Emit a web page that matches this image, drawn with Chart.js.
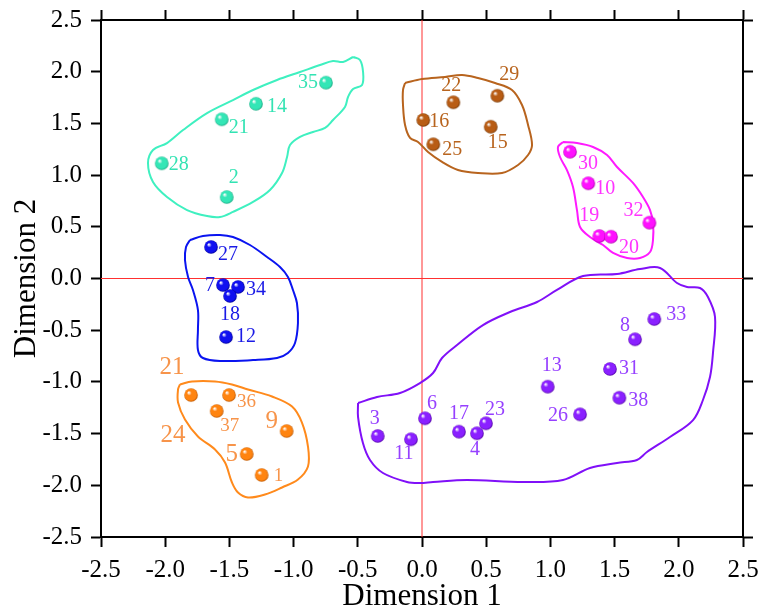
<!DOCTYPE html>
<html>
<head>
<meta charset="utf-8">
<script src="https://cdn.jsdelivr.net/npm/chart.js@4.4.0/dist/chart.umd.min.js"></script>
<style>
  html, body { margin: 0; padding: 0; background: #fff; }
  #wrap { width: 760px; height: 615px; }
</style>
</head>
<body>
<div id="wrap"><canvas id="chart"></canvas></div>
<script>
// axis ticks (both axes)
const tickValues = [-2.5, -2.0, -1.5, -1.0, -0.5, 0.0, 0.5, 1.0, 1.5, 2.0, 2.5];

// cyan cluster
const cyanLabels = ["35", "14", "21", "28", "2"];
const cyanX = [-0.748, -1.293, -1.560, -2.027, -1.521];
const cyanY = [1.894, 1.690, 1.540, 1.114, 0.788];
const cyanEdgeX = [-0.537, -0.483, -0.459, -0.467, -0.537, -0.576, -0.600, -0.693, -0.755, -0.849, -0.950, -1.028, -1.051, -1.090, -1.184, -1.316, -1.472, -1.573, -1.674, -1.830, -1.986, -2.095, -2.134, -2.095, -1.986, -1.861, -1.674, -1.472, -1.316, -1.129, -0.950, -0.794, -0.693, -0.615];
const cyanEdgeY = [2.142, 2.113, 1.997, 1.871, 1.832, 1.755, 1.659, 1.533, 1.456, 1.417, 1.369, 1.291, 1.175, 1.020, 0.856, 0.740, 0.644, 0.595, 0.604, 0.662, 0.788, 0.933, 1.117, 1.243, 1.310, 1.436, 1.600, 1.726, 1.823, 1.920, 1.997, 2.065, 2.103, 2.094];

// blue cluster
const blueLabels = ["27", "7", "34", "18", "12"];
const blueX = [-1.643, -1.550, -1.433, -1.495, -1.526];
const blueY = [0.305, -0.063, -0.082, -0.169, -0.566];
const blueEdgeX = [-1.807, -1.706, -1.573, -1.472, -1.340, -1.207, -1.106, -1.044, -1.005, -0.974, -0.966, -0.989, -1.044, -1.129, -1.316, -1.573, -1.706, -1.745, -1.745, -1.745, -1.784, -1.822, -1.846, -1.838];
const blueEdgeY = [0.372, 0.411, 0.421, 0.401, 0.324, 0.208, 0.111, 0.015, -0.111, -0.237, -0.430, -0.624, -0.720, -0.769, -0.789, -0.798, -0.769, -0.691, -0.498, -0.305, -0.111, 0.015, 0.179, 0.305];

// orange cluster
const orangeLabels = ["21", "36", "37", "9", "5", "1"];
const orangeX = [-1.799, -1.503, -1.599, -1.054, -1.365, -1.249];
const orangeY = [-1.127, -1.127, -1.281, -1.475, -1.697, -1.900];
const orangeFreeLabels = ["24"];
const orangeFreeX = [-1.940];
const orangeFreeY = [-1.513];
const orangeEdgeX = [-1.885, -1.791, -1.612, -1.480, -1.355, -1.168, -1.012, -0.935, -0.888, -0.888, -0.966, -1.090, -1.223, -1.355, -1.433, -1.480, -1.534, -1.612, -1.745, -1.846, -1.900, -1.900];
const orangeEdgeY = [-1.025, -0.996, -0.996, -1.025, -1.073, -1.141, -1.238, -1.393, -1.625, -1.818, -1.944, -2.021, -2.089, -2.118, -2.070, -1.973, -1.780, -1.654, -1.528, -1.364, -1.199, -1.073];

// purple cluster
const purpleLabels = ["3", "11", "6", "17", "4", "23", "13", "26", "31", "38", "8", "33"];
const purpleX = [-0.345, -0.086, 0.023, 0.288, 0.428, 0.498, 0.979, 1.231, 1.464, 1.537, 1.659, 1.809];
const purpleY = [-1.523, -1.555, -1.352, -1.481, -1.497, -1.400, -1.046, -1.314, -0.875, -1.153, -0.588, -0.392];
const purpleEdgeX = [-0.498, -0.350, -0.171, -0.016, 0.086, 0.156, 0.273, 0.475, 0.685, 0.896, 1.051, 1.254, 1.519, 1.698, 1.854, 1.986, 2.064, 2.165, 2.227, 2.282, 2.266, 2.243, 2.188, 2.111, 1.931, 1.752, 1.674, 1.519, 1.308, 1.098, 0.787, 0.350, 0.086, -0.016, -0.117, -0.304, -0.405, -0.460, -0.498];
const purpleEdgeY = [-1.204, -1.146, -1.107, -1.011, -0.914, -0.769, -0.643, -0.450, -0.324, -0.227, -0.111, 0.024, 0.044, 0.092, 0.102, -0.044, -0.082, -0.092, -0.179, -0.372, -0.721, -0.953, -1.175, -1.369, -1.533, -1.678, -1.755, -1.784, -1.833, -1.949, -1.968, -1.949, -1.968, -1.978, -1.968, -1.881, -1.755, -1.591, -1.340];

// brown cluster
const brownLabels = ["22", "29", "16", "15", "25"];
const brownX = [0.244, 0.587, 0.010, 0.535, 0.088];
const brownY = [1.704, 1.768, 1.533, 1.468, 1.298];
const brownEdgeX = [-0.132, 0.000, 0.179, 0.312, 0.436, 0.569, 0.701, 0.779, 0.826, 0.857, 0.826, 0.748, 0.623, 0.436, 0.280, 0.156, 0.047, -0.031, -0.093, -0.132, -0.148, -0.148];
const brownEdgeY = [1.891, 1.929, 1.949, 1.968, 1.939, 1.891, 1.823, 1.678, 1.485, 1.291, 1.194, 1.098, 1.020, 1.020, 1.049, 1.127, 1.223, 1.320, 1.359, 1.485, 1.678, 1.823];

// magenta cluster
const magentaLabels = ["30", "10", "19", "20", "32"];
const magentaX = [1.153, 1.295, 1.381, 1.472, 1.771];
const magentaY = [1.226, 0.921, 0.411, 0.404, 0.540];
const magentaEdgeX = [1.098, 1.207, 1.332, 1.441, 1.519, 1.643, 1.721, 1.776, 1.799, 1.799, 1.776, 1.698, 1.597, 1.488, 1.410, 1.308, 1.231, 1.207, 1.176, 1.129, 1.075, 1.059];
const magentaEdgeY = [1.320, 1.310, 1.272, 1.194, 1.078, 0.924, 0.788, 0.662, 0.537, 0.372, 0.256, 0.198, 0.198, 0.247, 0.324, 0.401, 0.498, 0.662, 0.885, 1.049, 1.175, 1.272];

// label placement in px relative to the point: [dx, dy, align, size]
const labelPlace = {
  cyan: [[-8, 0, "right", 20], [11, 3, "left", 20], [7, 8, "left", 20], [7, 1, "left", 20], [7, -19, "center", 20]],
  blue: [[7, 8, "left", 20], [-8, 1, "right", 20], [8, 3, "left", 20], [0, 19, "center", 20], [10, 0, "left", 20]],
  orange: [[-19, -28, "center", 25], [8, 7, "left", 19], [13, 15, "center", 19], [-15, -10, "center", 25], [-15, 0, "center", 25], [12, 1, "left", 19]],
  purple: [[-3, -17, "center", 20], [-7, 14, "center", 20], [7, -15, "center", 20], [0, -18, "center", 20], [-2, 16, "center", 20], [9, -14, "center", 20],
           [4, -21, "center", 20], [-12, 1, "right", 20], [9, 0, "left", 20], [9, 3, "left", 20], [-10, -14, "center", 20], [12, -4, "left", 20]],
  brown: [[-2, -17, "center", 20], [12, -21, "center", 20], [6, 2, "left", 20], [7, 16, "center", 20], [9, 5, "left", 20]],
  magenta: [[8, 12, "left", 20], [7, 5, "left", 20], [-10, -20, "center", 20], [18, 11, "center", 20], [-16, -12, "center", 20]]
};

const groups = [
  { key: "cyan", labels: cyanLabels, xs: cyanX, ys: cyanY, ex: cyanEdgeX, ey: cyanEdgeY, line: "#3ff0c0", dot: "#34e6b6", dark: "#14a07a", text: "#33e3b3" },
  { key: "blue", labels: blueLabels, xs: blueX, ys: blueY, ex: blueEdgeX, ey: blueEdgeY, line: "#0a14f0", dot: "#1010f0", dark: "#00008a", text: "#1a1ae6" },
  { key: "orange", labels: orangeLabels, xs: orangeX, ys: orangeY, ex: orangeEdgeX, ey: orangeEdgeY, line: "#ff8a1c", dot: "#ff8410", dark: "#b85400", text: "#f7944a" },
  { key: "purple", labels: purpleLabels, xs: purpleX, ys: purpleY, ex: purpleEdgeX, ey: purpleEdgeY, line: "#8010f8", dot: "#8a20ff", dark: "#4a0099", text: "#9640ff" },
  { key: "brown", labels: brownLabels, xs: brownX, ys: brownY, ex: brownEdgeX, ey: brownEdgeY, line: "#b8641e", dot: "#b85c14", dark: "#6a3000", text: "#b8641e" },
  { key: "magenta", labels: magentaLabels, xs: magentaX, ys: magentaY, ex: magentaEdgeX, ey: magentaEdgeY, line: "#ff1aff", dot: "#ff10ff", dark: "#a000a0", text: "#ff33ff" }
];

const serif = "'Liberation Serif', 'Times New Roman', serif";

function sphere(color, dark) {
  const c = document.createElement("canvas");
  c.width = 16; c.height = 16;
  const g = c.getContext("2d");
  const grad = g.createRadialGradient(5.6, 5.4, 0.4, 8, 8, 7);
  grad.addColorStop(0, "#ffffff");
  grad.addColorStop(0.3, color);
  grad.addColorStop(0.8, color);
  grad.addColorStop(1, dark);
  g.fillStyle = grad;
  g.beginPath();
  g.arc(8, 8, 6.8, 0, Math.PI * 2);
  g.fill();
  return c;
}

const datasets = [];
groups.forEach(gr => {
  datasets.push({
    data: gr.xs.map((x, i) => ({ x: x, y: gr.ys[i] })),
    pointStyle: sphere(gr.dot, gr.dark),
    pointRadius: 7,
    showLine: false,
    order: 0
  });
  const edge = gr.ex.map((x, i) => ({ x: x, y: gr.ey[i] }));
  edge.push(edge[0]);
  datasets.push({
    data: edge,
    showLine: true,
    borderColor: gr.line,
    borderWidth: 2,
    pointRadius: 0,
    tension: 0.35,
    fill: false,
    order: 1
  });
});
datasets.push({ data: [{ x: 0, y: -2.5 }, { x: 0, y: 2.5 }], showLine: true, borderColor: "#ff3030", borderWidth: 1, pointRadius: 0, order: 2 });
datasets.push({ data: [{ x: -2.5, y: 0 }, { x: 2.5, y: 0 }], showLine: true, borderColor: "#ff3030", borderWidth: 1, pointRadius: 0, order: 2 });

const pointLabels = {
  id: "pointLabels",
  afterDatasetsDraw(chart) {
    const ctx = chart.ctx;
    const sx = chart.scales.x, sy = chart.scales.y;
    ctx.save();
    ctx.textBaseline = "middle";
    groups.forEach(gr => {
      ctx.fillStyle = gr.text;
      gr.labels.forEach((t, i) => {
        const p = labelPlace[gr.key][i];
        ctx.font = p[3] + "px " + serif;
        ctx.textAlign = p[2];
        ctx.fillText(t, sx.getPixelForValue(gr.xs[i]) + p[0], sy.getPixelForValue(gr.ys[i]) + p[1]);
      });
    });
    const og = groups.find(g => g.key === "orange");
    ctx.fillStyle = og.text;
    ctx.font = "25px " + serif;
    ctx.textAlign = "center";
    orangeFreeLabels.forEach((t, i) => {
      ctx.fillText(t, sx.getPixelForValue(orangeFreeX[i]), sy.getPixelForValue(orangeFreeY[i]));
    });
    ctx.restore();
  }
};

function axis(position, showLabels, size, title) {
  const horiz = position === "bottom" || position === "top";
  const opts = {
    type: "linear",
    position: position,
    min: -2.5,
    max: 2.5,
    afterBuildTicks(s) { s.ticks = tickValues.map(v => ({ value: v })); },
    afterFit(s) {
      if (horiz) s.height = size; else s.width = size;
      s.paddingTop = 0; s.paddingBottom = 0; s.paddingLeft = 0; s.paddingRight = 0;
    },
    ticks: {
      display: showLabels,
      color: "#000",
      padding: horiz ? 8 : 9,
      font: { family: serif, size: 25 },
      callback: v => v.toFixed(1)
    },
    grid: { drawOnChartArea: false, drawTicks: true, tickLength: 10, tickWidth: 2, tickColor: "#000" },
    border: { display: true, color: "#000", width: 2 }
  };
  if (title) {
    opts.title = {
      display: true,
      text: title,
      color: "#000",
      font: { family: serif, size: 31 },
      padding: horiz ? { top: 0, bottom: 0 } : { top: 8, bottom: 0 }
    };
  }
  return opts;
}

new Chart(document.getElementById("chart"), {
  type: "scatter",
  data: { datasets: datasets },
  options: {
    responsive: true,
    maintainAspectRatio: false,
    animation: false,
    layout: { padding: 0 },
    plugins: { legend: { display: false }, tooltip: { enabled: false } },
    scales: {
      x: axis("bottom", true, 78, "Dimension 1"),
      y: axis("left", true, 101, "Dimension 2"),
      x2: axis("top", false, 20),
      y2: axis("right", false, 17)
    }
  },
  plugins: [pointLabels]
});
</script>
</body>
</html>
